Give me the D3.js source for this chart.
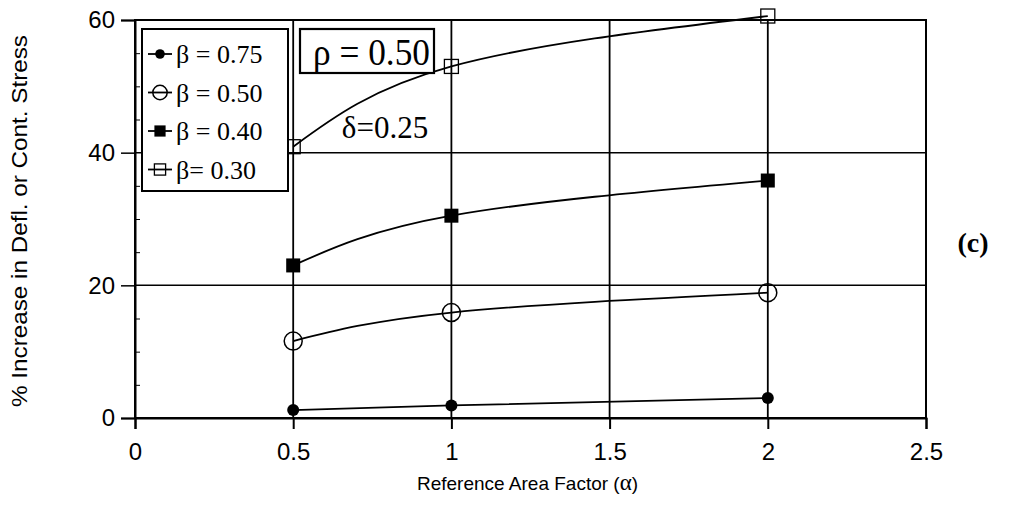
<!DOCTYPE html>
<html>
<head>
<meta charset="utf-8">
<script src="https://cdn.jsdelivr.net/npm/d3@7"></script>
<style>
  body { margin: 0; background: #fff; }
  text { fill: #000; }
</style>
</head>
<body>
<script>
// data
var alpha = [0.5, 1, 2];
var beta075 = [1.2, 1.9, 3.0];
var beta050 = [11.6, 15.9, 18.9];
var beta040 = [23.0, 30.5, 35.8];
var beta030 = [40.9, 53.0, 60.6];
var seriesNames = ["\u03b2 = 0.75", "\u03b2 = 0.50", "\u03b2 = 0.40", "\u03b2= 0.30"];
var xTicks = [0, 0.5, 1, 1.5, 2, 2.5];
var yTicks = [0, 20, 40, 60];

var margin = { top: 20, right: 85, bottom: 99, left: 135 }
    , width = 1011 - margin.left - margin.right
    , height = 517 - margin.top - margin.bottom;

var svg = d3.select("body").append("svg")
    .attr("width", 1011)
    .attr("height", 517)
    .append("g")
    .attr("transform", "translate(" + margin.left + "," + margin.top + ")");

var xScale = d3.scaleLinear().domain([0, 2.5]).range([0, width]);
var yScale = d3.scaleLinear().domain([0, 60]).range([height, 0]);

var sans = "Liberation Sans, Arial, sans-serif";
var serif = "Liberation Serif, Times New Roman, serif";

// grid lines
svg.append("g").selectAll("line").data(yTicks.slice(1))
    .enter().append("line")
    .attr("x1", 0).attr("x2", width)
    .attr("y1", function (d) { return yScale(d) })
    .attr("y2", function (d) { return yScale(d) })
    .attr("stroke", "black").attr("stroke-width", 1.5);
svg.append("g").selectAll("line").data(xTicks.slice(1))
    .enter().append("line")
    .attr("x1", function (d) { return xScale(d) })
    .attr("x2", function (d) { return xScale(d) })
    .attr("y1", 0).attr("y2", height)
    .attr("stroke", "black").attr("stroke-width", 1.8);

// x axis
var xAxis = svg.append("g")
    .attr("transform", "translate(0," + height + ")")
    .call(d3.axisBottom(xScale).tickValues(xTicks).tickSize(11).tickPadding(14)
        .tickFormat(function (d) { return String(d) }));
xAxis.select(".domain").attr("stroke-width", 2);
xAxis.selectAll(".tick line").attr("stroke-width", 2);
xAxis.selectAll("text").style("font-family", sans).style("font-size", "24px");

// y axis
var yAxis = svg.append("g")
    .call(d3.axisLeft(yScale).tickValues(yTicks).tickSize(14).tickPadding(6));
yAxis.select(".domain").attr("stroke-width", 2);
yAxis.selectAll(".tick line").attr("stroke-width", 1.5);
yAxis.selectAll("text").style("font-family", sans).style("font-size", "24px");

// minor ticks inside the y axis
svg.append("g")
    .call(d3.axisRight(yScale).tickValues(d3.range(5, 60, 5).filter(function (d) { return d % 20 })).tickSize(5).tickFormat(""))
    .select(".domain").remove();

// right and top border
svg.append("rect")
    .attr("width", width).attr("height", height)
    .attr("fill", "none").attr("stroke", "black").attr("stroke-width", 2);

// curves
var line = d3.line()
    .x(function (d, i) { return xScale(alpha[i]) })
    .y(function (d) { return yScale(d) })
    .curve(d3.curveNatural);

var allSeries = [beta075, beta050, beta040, beta030];
allSeries.forEach(function (s) {
    svg.append("path")
        .datum(s)
        .attr("fill", "none")
        .attr("stroke", "black")
        .attr("stroke-width", 1.8)
        .attr("d", line);
});

function marker(g, k, cx, cy, scale) {
    if (k == 0) {
        g.append("circle").attr("cx", cx).attr("cy", cy).attr("r", 6 * scale).attr("fill", "black");
    } else if (k == 1) {
        g.append("circle").attr("cx", cx).attr("cy", cy).attr("r", 9 * scale)
            .attr("fill", "none").attr("stroke", "black").attr("stroke-width", 1.5);
    } else if (k == 2) {
        g.append("rect").attr("x", cx - 7 * scale).attr("y", cy - 7 * scale)
            .attr("width", 14 * scale).attr("height", 14 * scale).attr("fill", "black");
    } else {
        g.append("rect").attr("x", cx - 7 * scale).attr("y", cy - 7 * scale)
            .attr("width", 14 * scale).attr("height", 14 * scale)
            .attr("fill", "none").attr("stroke", "black").attr("stroke-width", 1.3);
    }
}

var markers = svg.append("g");
allSeries.forEach(function (s, k) {
    s.forEach(function (v, i) {
        marker(markers, k, xScale(alpha[i]), yScale(v), 1);
    });
});

// legend
var legend = svg.append("g").attr("transform", "translate(7,9)");
legend.append("rect")
    .attr("width", 146).attr("height", 162)
    .attr("fill", "white").attr("stroke", "black").attr("stroke-width", 2);
seriesNames.forEach(function (name, k) {
    var y = 25 + k * 38.5;
    legend.append("line")
        .attr("x1", 6).attr("x2", 30).attr("y1", y).attr("y2", y)
        .attr("stroke", "black").attr("stroke-width", 1.8);
    marker(legend, k, 18, y, 0.8);
    legend.append("text")
        .attr("x", 34).attr("y", y + 9)
        .style("font-family", serif).style("font-size", "26px")
        .text(name);
});

// rho box
var rho = svg.append("g").attr("transform", "translate(165,9)");
rho.append("rect")
    .attr("width", 134).attr("height", 44)
    .attr("fill", "white").attr("stroke", "black").attr("stroke-width", 2.2);
rho.append("text")
    .attr("x", 13).attr("y", 36)
    .attr("textLength", 117).attr("lengthAdjust", "spacingAndGlyphs")
    .style("font-family", serif).style("font-size", "37px")
    .text("\u03c1 = 0.50");

svg.append("text")
    .attr("x", 250).attr("y", 118).attr("text-anchor", "middle")
    .style("font-family", serif).style("font-size", "31px")
    .text("\u03b4=0.25");

// axis titles
svg.append("text")
    .attr("x", width / 2 - 3).attr("y", height + 72)
    .attr("text-anchor", "middle")
    .style("font-family", sans).style("font-size", "19px")
    .html("Reference Area Factor (<tspan style='font-family:Liberation Serif, serif;font-size:23px'>\u03b1</tspan>)");

svg.append("text")
    .attr("transform", "translate(-108,201) rotate(-90)")
    .attr("text-anchor", "middle")
    .attr("textLength", 372).attr("lengthAdjust", "spacingAndGlyphs")
    .style("font-family", sans).style("font-size", "22px")
    .text("% Increase in Defl. or Cont. Stress");

svg.append("text")
    .attr("x", width + 47).attr("y", 232)
    .attr("text-anchor", "middle")
    .style("font-family", serif).style("font-size", "28px").style("font-weight", "bold")
    .text("(c)");
</script>
</body>
</html>
